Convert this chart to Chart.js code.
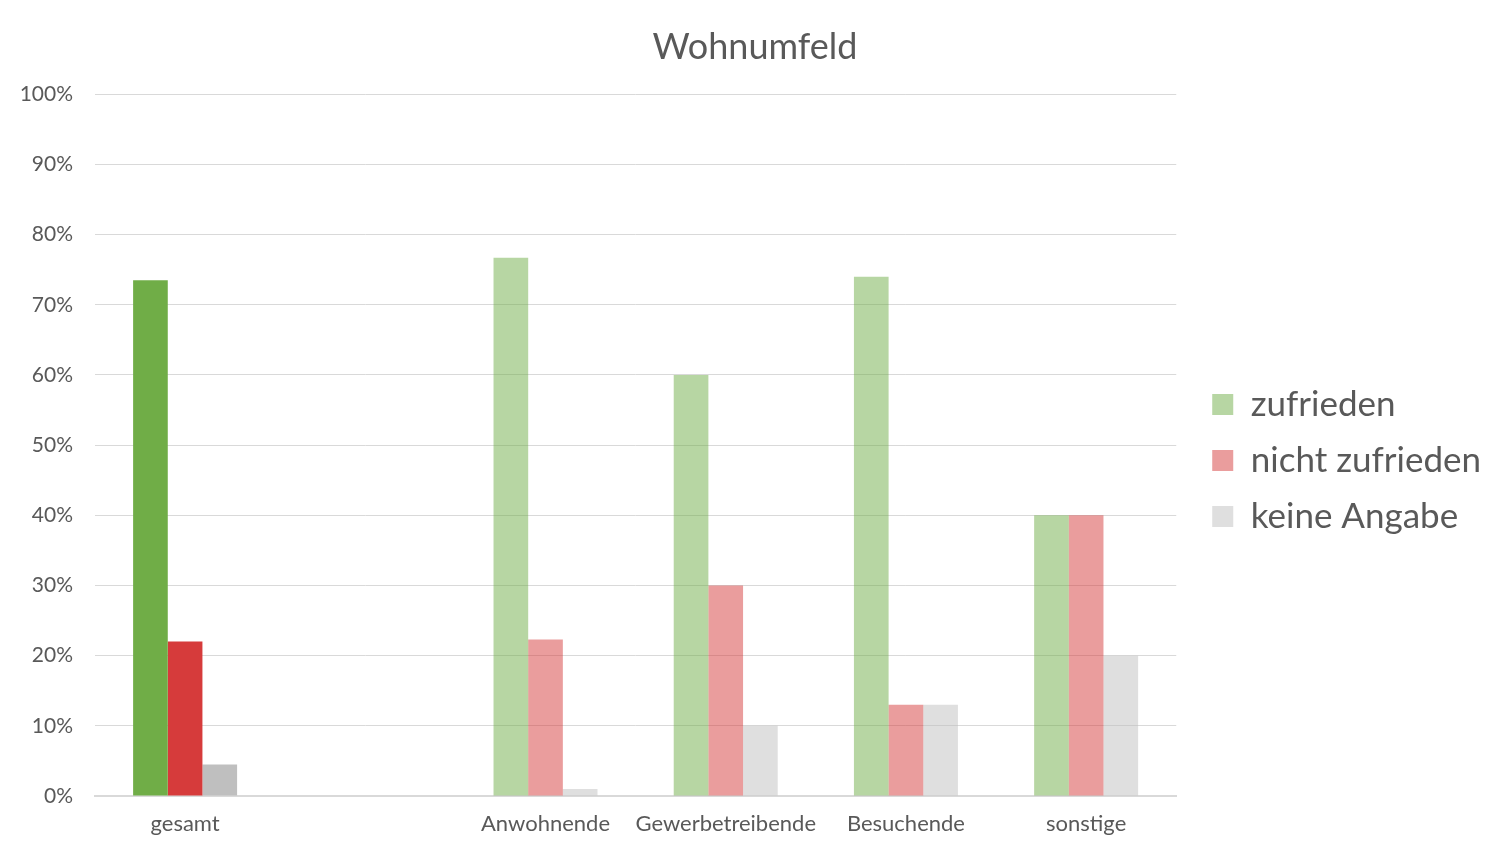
<!DOCTYPE html>
<html>
<head>
<meta charset="utf-8">
<script src="https://cdn.jsdelivr.net/npm/chart.js@4.4.1/dist/chart.umd.min.js"></script>
<style>
    html, body { margin: 0; padding: 0; background: #fff; }
    #wrap { width: 1493px; height: 845px; }
</style>
</head>
<body>
<div id="wrap"><canvas id="chart"></canvas></div>
<script>
// Kategorien (die leere Spalte trennt "gesamt" von den Gruppen)
const kategorien = ['gesamt', '', 'Anwohnende', 'Gewerbetreibende', 'Besuchende', 'sonstige'];

// Anteile in Prozent
const zufrieden      = [73.5, null, 76.7, 60, 74, 40];
const nichtZufrieden = [22,   null, 22.3, 30, 13, 40];
const keineAngabe    = [4.5,  null, 1.0,  10, 13, 20];

const yTicks = [0, 10, 20, 30, 40, 50, 60, 70, 80, 90, 100];

// "gesamt" kräftig, die übrigen Gruppen heller
const farben = {
    zufrieden: ['#70AD47', 'rgba(112,173,71,0.5)'],
    nicht:     ['#D63B3B', 'rgba(214,59,59,0.5)'],
    keine:     ['#BFBFBF', 'rgba(191,191,191,0.5)']
};

function spaltenFarben(paar) {
    return kategorien.map((k, i) => i === 0 ? paar[0] : paar[1]);
}

const schrift = 'Lato, "Open Sans", sans-serif';
const grau = '#595959';

// Legende und Titel nach dem Layout etwas verschieben
const feinLayout = {
    id: 'feinLayout',
    afterLayout(chart) {
        const lg = chart.legend;
        lg.left += 15; lg.right += 15;
        lg.top += 25; lg.bottom += 25;
        const t = chart.titleBlock;
        t.left += 17; t.right += 17;
    }
};

new Chart(document.getElementById('chart'), {
    type: 'bar',
    data: {
        labels: kategorien,
        datasets: [
            { label: 'zufrieden', data: zufrieden, backgroundColor: spaltenFarben(farben.zufrieden) },
            { label: 'nicht zufrieden', data: nichtZufrieden, backgroundColor: spaltenFarben(farben.nicht) },
            { label: 'keine Angabe', data: keineAngabe, backgroundColor: spaltenFarben(farben.keine) }
        ]
    },
    plugins: [feinLayout],
    options: {
        responsive: true,
        maintainAspectRatio: false,
        animation: false,
        layout: { padding: { left: 0, right: 17, top: 26, bottom: 0 } },
        datasets: {
            bar: { categoryPercentage: 0.577, barPercentage: 1.0 }
        },
        plugins: {
            title: {
                display: true,
                text: 'Wohnumfeld',
                color: grau,
                font: { family: schrift, size: 36, weight: 'normal' },
                padding: { top: 0, bottom: 25 }
            },
            legend: {
                position: 'right',
                labels: {
                    color: grau,
                    font: { family: schrift, size: 35, lineHeight: 1.06 },
                    boxWidth: 21,
                    boxHeight: 21,
                    padding: 21,
                    generateLabels(chart) {
                        return chart.data.datasets.map((ds, i) => ({
                            text: ds.label,
                            fillStyle: ds.backgroundColor[2],
                            strokeStyle: ds.backgroundColor[2],
                            lineWidth: 0,
                            fontColor: grau,
                            datasetIndex: i
                        }));
                    }
                }
            },
            tooltip: { enabled: false }
        },
        scales: {
            x: {
                grid: { display: false, drawTicks: false },
                border: { color: '#d9d9d9', width: 2 },
                afterFit(axis) { axis.height = 49; },
                ticks: {
                    color: grau,
                    font: { family: schrift, size: 22 },
                    padding: 15,
                    maxRotation: 0,
                    autoSkip: false
                }
            },
            y: {
                min: 0,
                max: 100,
                border: { display: false },
                grid: { color: '#d9d9d9', drawTicks: false },
                afterFit(axis) { axis.width = 95; },
                afterBuildTicks(axis) {
                    axis.ticks = yTicks.map(v => ({ value: v }));
                },
                ticks: {
                    color: grau,
                    font: { family: schrift, size: 21 },
                    padding: 22,
                    callback: v => v + '%'
                }
            }
        }
    }
});
</script>
</body>
</html>
